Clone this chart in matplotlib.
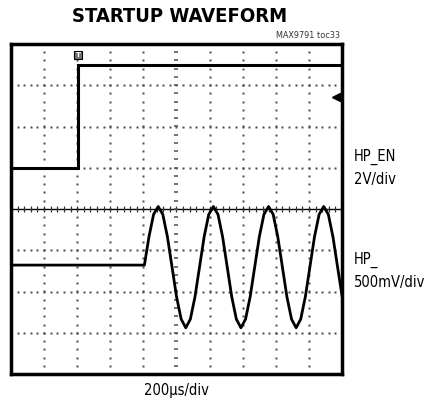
import numpy as np
import matplotlib
matplotlib.use('Agg')
import matplotlib.pyplot as plt
from matplotlib import font_manager

# scope screen is 10 x 8 divisions, centre at (5, 0)
N_XDIV = 10
N_YDIV = 8

# HP_EN trace (divisions)
en_x = [0.0, 2.03, 2.03, 10.0]
en_y = [1.0, 1.0, 3.48, 3.48]

# HP_ output trace
hp_x = [0.0, 4.030, 4.169, 4.308, 4.447, 4.586, 4.725, 4.864, 5.002, 5.141, 5.280,
        5.419, 5.558, 5.697, 5.836, 5.975, 6.114, 6.253, 6.392, 6.531, 6.669,
        6.808, 6.947, 7.086, 7.225, 7.364, 7.503, 7.642, 7.781, 7.920, 8.059,
        8.198, 8.336, 8.475, 8.614, 8.753, 8.892, 9.031, 9.170, 9.309, 9.448,
        9.587, 9.726, 9.865, 10.0]
hp_y = [-1.36, -1.36, -0.67, -0.13, 0.06, -0.13, -0.67, -1.40, -2.13, -2.67, -2.88,
        -2.67, -2.13, -1.40, -0.67, -0.13, 0.06, -0.13, -0.67, -1.40, -2.13,
        -2.67, -2.88, -2.67, -2.13, -1.40, -0.67, -0.13, 0.06, -0.13, -0.67,
        -1.40, -2.13, -2.67, -2.88, -2.67, -2.13, -1.40, -0.67, -0.13, 0.06,
        -0.13, -0.67, -1.40, -2.10]

trig_pos = (2.03, 3.73)
ch_marker_pos = (9.82, 2.72)

title = "STARTUP WAVEFORM"
tag = "MAX9791 toc33"
ch1_label = "HP_EN\n2V/div"
ch2_label = "HP_\n500mV/div"
time_label = "200\u00b5s/div"

# use a condensed face if there is one
names = {f.name for f in font_manager.fontManager.ttflist}
if 'DejaVu Sans Condensed' in names:
    narrow = ['DejaVu Sans Condensed', 'DejaVu Sans']
    stretch = 'normal'
else:
    narrow = ['DejaVu Sans']
    stretch = 'condensed'

W, H = 428, 407
fig = plt.figure(figsize=(W / 100, H / 100), dpi=100)
ax = fig.add_axes([11 / W, 1 - 374 / H, 331 / W, 330 / H])
ax.set_xlim(0, N_XDIV)
ax.set_ylim(-N_YDIV / 2, N_YDIV / 2)
ax.set_xticks([])
ax.set_yticks([])
for s in ax.spines.values():
    s.set_linewidth(2.5)

# dotted graticule: a dot every 0.2 division
minor_x = np.arange(0, N_XDIV + 0.01, 0.2)
minor_y = np.arange(-N_YDIV / 2, N_YDIV / 2 + 0.01, 0.2)
for gx in range(1, N_XDIV):
    if gx == 5:
        continue
    ax.plot([gx] * len(minor_y), minor_y, ls='none', marker='s', ms=1.5,
            mec='none', color='0.3', zorder=1)
for gy in range(-3, 4):
    if gy == 0:
        continue
    ax.plot(minor_x, [gy] * len(minor_x), ls='none', marker='s', ms=1.5,
            mec='none', color='0.3', zorder=1)

# centre crosshair with tick marks
ax.axhline(0, color='black', lw=1.0, zorder=1)
ax.plot(minor_x, [0] * len(minor_x), ls='none', marker='|', ms=5, mew=0.9,
        color='0.2', zorder=1)
ax.plot([5] * len(minor_y), minor_y, ls='none', marker='_', ms=3.5, mew=1.2,
        color='0.35', zorder=1)

# traces
ax.plot(en_x, en_y, color='black', lw=2.2, zorder=3, solid_joinstyle='miter')
ax.plot(hp_x, hp_y, color='black', lw=2.0, zorder=3)

# trigger and channel markers
ax.plot(*trig_pos, marker='s', ms=6, mfc='0.45', mec='black', mew=0.8, zorder=4)
ax.text(trig_pos[0], trig_pos[1], 'T', color='white', fontsize=5,
        fontweight='bold', ha='center', va='center', zorder=5)
ax.plot(*ch_marker_pos, marker='<', ms=6, color='black', zorder=4)

fig.text(180 / W, 1 - 17 / H, title, ha='center', va='center',
         fontsize=14.5, fontweight='heavy', family=narrow, fontstretch=stretch)
fig.text(340 / W, 1 - 36 / H, tag, ha='right', va='center',
         fontsize=6.5, family=narrow, fontstretch=stretch, color='0.2')
fig.text(354 / W, 1 - 168 / H, ch1_label, ha='left', va='center',
         fontsize=10.5, family=narrow, fontstretch=stretch, linespacing=1.6)
fig.text(354 / W, 1 - 271 / H, ch2_label, ha='left', va='center',
         fontsize=10.5, family=narrow, fontstretch=stretch, linespacing=1.6)
fig.text(176 / W, 1 - 391 / H, time_label, ha='center', va='center',
         fontsize=10.5, family=narrow, fontstretch=stretch)

fig.savefig('out.png', dpi=100)
